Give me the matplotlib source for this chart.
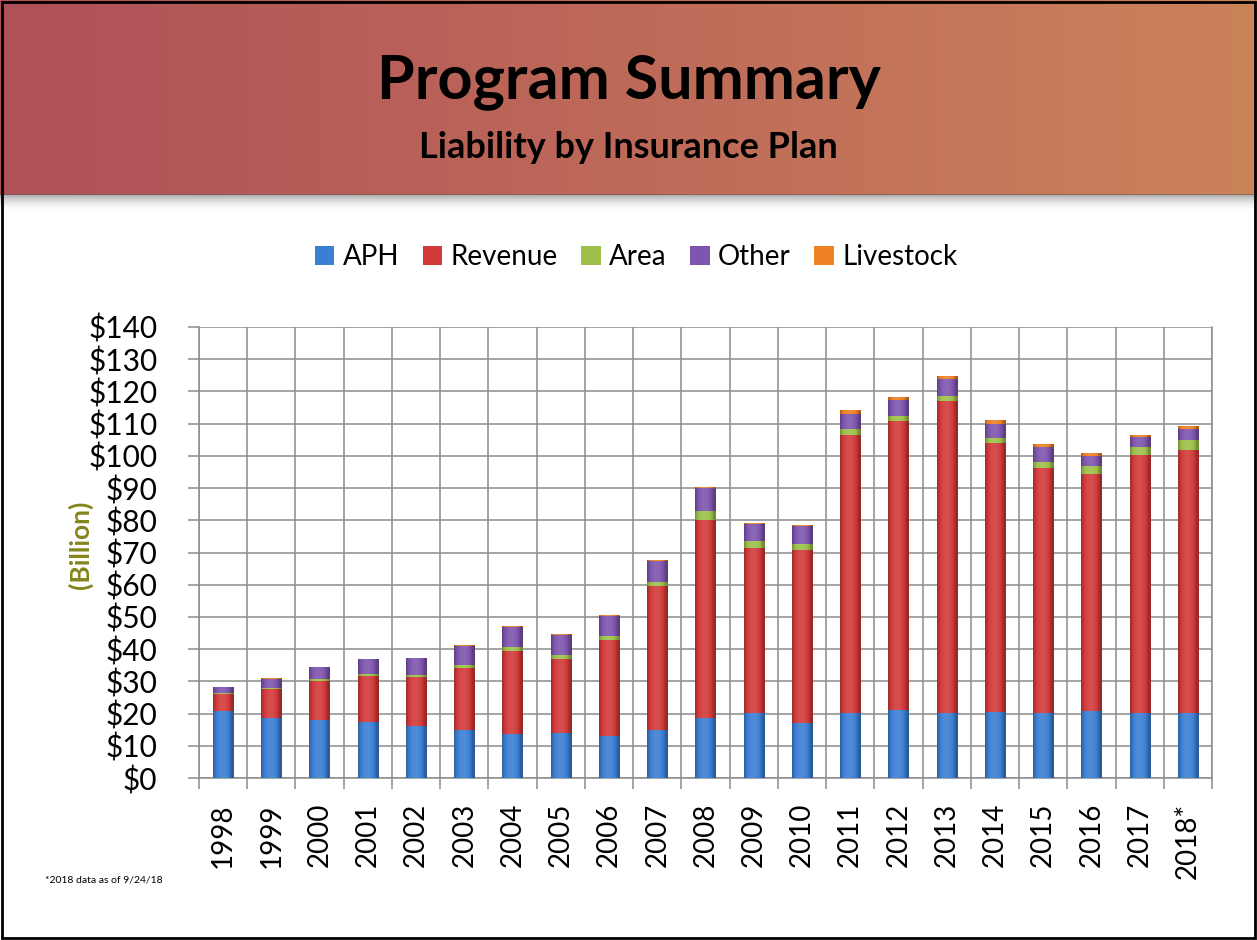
import numpy as np
import matplotlib
matplotlib.use("Agg")
import matplotlib.pyplot as plt
from matplotlib.patches import Rectangle, Patch
from matplotlib.ticker import FixedLocator, FuncFormatter

years = ["1998", "1999", "2000", "2001", "2002", "2003", "2004", "2005", "2006", "2007",
         "2008", "2009", "2010", "2011", "2012", "2013", "2014", "2015", "2016", "2017", "2018*"]
aph = [20.7, 18.6, 18.1, 17.3, 16.0, 14.8, 13.7, 14.0, 12.9, 14.8,
       18.5, 20.2, 17.1, 20.2, 21.2, 20.2, 20.4, 20.2, 20.9, 20.2, 20.2]
revenue = [5.3, 9.0, 11.9, 14.3, 15.4, 19.4, 25.8, 23.0, 29.9, 44.7,
           61.7, 51.2, 53.8, 86.4, 89.6, 96.8, 83.6, 76.1, 73.6, 80.2, 81.6]
area = [0.3, 0.4, 0.7, 0.6, 0.6, 1.0, 1.3, 1.3, 1.2, 1.3,
        2.6, 2.1, 1.6, 1.6, 1.5, 1.5, 1.5, 1.8, 2.3, 2.3, 3.1]
other = [1.8, 2.8, 3.8, 4.7, 5.3, 5.9, 6.2, 6.2, 6.2, 6.7,
         7.3, 5.5, 5.7, 4.9, 5.0, 5.4, 4.3, 4.6, 3.3, 3.2, 3.5]
livestock = [0.1, 0.1, 0.1, 0.1, 0.1, 0.2, 0.3, 0.2, 0.3, 0.3,
             0.3, 0.2, 0.2, 1.0, 0.9, 0.8, 1.2, 1.0, 0.8, 0.7, 0.8]

series_names = ["APH", "Revenue", "Area", "Other", "Livestock"]
series_values = [aph, revenue, area, other, livestock]
series_colors = ["#3B7FD3", "#D23A3A", "#9CC04A", "#7E55AE", "#EE8025"]
yticks = list(range(0, 141, 10))

FONT = "Lato"

fig = plt.figure(figsize=(12.57, 9.40), dpi=100)
fig.patch.set_facecolor("white")

# Header band with gradient
hdr = fig.add_axes([0, 1 - 195 / 940, 1, 195 / 940])
left_c = np.array([176, 80, 88]) / 255
right_c = np.array([203, 131, 90]) / 255
t = np.linspace(0, 1, 256)
grad = (left_c[None, :] * (1 - t[:, None]) + right_c[None, :] * t[:, None])[None, :, :]
hdr.imshow(grad, aspect="auto", extent=[0, 1, 0, 1])
hdr.set_axis_off()

# shadow under header
sh = fig.add_axes([0, 1 - 212 / 940, 1, 18 / 940])
s = np.linspace(0, 1, 64)
shade = np.ones((64, 1, 4))
shade[:, 0, :3] = 0.35
shade[:, 0, 3] = (s ** 2) * 0.55
sh.imshow(shade, aspect="auto", extent=[0, 1, 0, 1], origin="lower")
sh.set_axis_off()

fig.text(0.5, 1 - 82 / 940, "Program Summary", ha="center", va="center",
         fontsize=44, fontweight="bold", family=FONT, color="black")
fig.text(0.5, 1 - 148 / 940, "Liability by Insurance Plan", ha="center", va="center",
         fontsize=26, fontweight="bold", family=FONT, color="black")

# Main chart
ax = fig.add_axes([199 / 1257, 1 - 778 / 940, (1212 - 199) / 1257, (778 - 327) / 940])
x = np.arange(len(years))
width = 0.42
bottom = np.zeros(len(years))


def shade_color(c, f):
    c = np.array(matplotlib.colors.to_rgb(c))
    if f >= 1:
        return c + (1 - c) * (f - 1)
    return c * f


for name, vals, col in zip(series_names, series_values, series_colors):
    vals = np.array(vals)
    bars = ax.bar(x, vals, width, bottom=bottom, color=col, label=name, zorder=3, linewidth=0)
    tt = np.linspace(0, 1, 64)
    prof = 0.72 + 0.45 * np.sin(np.pi * np.clip(tt * 1.1, 0, 1)) ** 0.8
    img = np.array([shade_color(col, f if f < 1 else 1 + (f - 1) * 0.6) for f in prof])
    img = np.clip(img, 0, 1)[None, :, :]
    for b in bars:
        if b.get_height() <= 0:
            continue
        im = ax.imshow(img, extent=[b.get_x(), b.get_x() + b.get_width(), b.get_y(),
                                    b.get_y() + b.get_height()],
                       aspect="auto", zorder=3.5, interpolation="bilinear")
        im.set_clip_path(b)
    bottom += vals

ax.set_xlim(-0.5, len(years) - 0.5)
ax.set_ylim(0, 140)
ax.set_aspect("auto")

ax.set_yticks(yticks)
ax.yaxis.set_major_formatter(FuncFormatter(lambda v, p: f"${int(v)}"))
ax.set_xticks(x)
ax.set_xticklabels(years, rotation=90)
ax.xaxis.set_minor_locator(FixedLocator(np.arange(-0.5, len(years), 1.0)))

grid_c = "#8C8C8C"
ax.grid(axis="y", which="major", color=grid_c, linewidth=1.1, zorder=0)
ax.grid(axis="x", which="minor", color=grid_c, linewidth=1.1, zorder=0)
ax.grid(axis="x", which="major", visible=False)
ax.set_axisbelow(True)

ax.tick_params(axis="x", which="major", length=0, pad=18, labelsize=20)
ax.tick_params(axis="x", which="minor", length=8, color=grid_c, width=1.1)
ax.tick_params(axis="y", which="major", length=8, color=grid_c, width=1.1, pad=22, labelsize=21.5)
for lab in ax.get_xticklabels() + ax.get_yticklabels():
    lab.set_family(FONT)
for sp in ["top"]:
    ax.spines[sp].set_visible(False)
for sp in ["left", "bottom", "right"]:
    ax.spines[sp].set_color(grid_c)
    ax.spines[sp].set_linewidth(1.1)

fig.text(80 / 1257, 1 - 545 / 940, "(Billion)", rotation=90, ha="center", va="center",
         fontsize=19, fontweight="bold", family=FONT, color="#85851C")

handles = [Patch(facecolor=c, edgecolor="none") for c in series_colors]
leg = fig.legend(handles, series_names, loc="center", bbox_to_anchor=(636 / 1257, 1 - 257 / 940),
                 ncol=5, frameon=False, prop={"family": FONT, "size": 20},
                 handlelength=0.7, handleheight=0.7, handletextpad=0.3, columnspacing=0.85)

fig.text(45 / 1257, 1 - 880 / 940, "*2018 data as of 9/24/18", ha="left", va="center",
         fontsize=7.5, family=FONT, color="black")

# outer border
fig.add_artist(Rectangle((0.0015, 0.002), 0.997, 0.996, transform=fig.transFigure,
                         fill=False, edgecolor="black", linewidth=2, zorder=10))

fig.savefig("out.png", dpi=100)
